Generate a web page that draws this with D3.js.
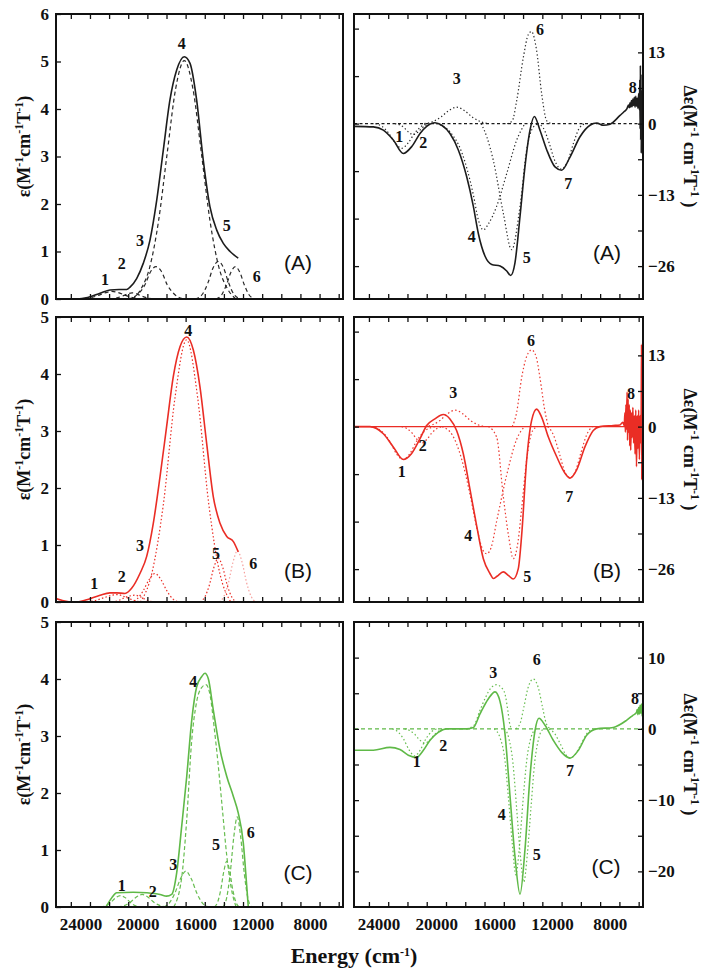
<!DOCTYPE html>
<html><head><meta charset="utf-8">
<script src="https://cdn.jsdelivr.net/npm/d3@7"></script>
<style>body{margin:0;background:#fff}svg{display:block}</style>
</head><body>
<svg id="chart" width="714" height="974"></svg>
<script>
// ---------- shared axis data ----------
const energyDomain = [25700, 5700];
const xMinorTicks = [24667, 23333, 22000, 20667, 19333, 18000, 16667, 15333, 14000, 12667, 11333, 10000, 8667, 7333, 6000];
const xTickLabels = [24000, 20000, 16000, 12000, 8000];
const absTicksA = [0, 1, 2, 3, 4, 5, 6];
const absTicksBC = [0, 1, 2, 3, 4, 5];
const mcdInnerTicksAB = [17.333, 8.667, 0, -8.667, -17.333, -26];
const mcdOuterTicksAB = [13, 6.5, 0, -6.5, -13, -19.5, -26];
const mcdLabelsAB = [13, 0, -13, -26];
const mcdTicksC = [10, 5, 0, -5, -10, -15, -20];
const mcdLabelsC = [10, 0, -10, -20];
const baseline = [[25700, 0], [5700, 0]];

// ---------- (A) absorption ----------
const absA_total = [[25700,0],[24240,0],[23500,0.03],[22630,0.12],[21940,0.19],[21300,0.2],[20770,0.2],[20540,0.25],[20080,0.43],[19620,0.75],[19150,1.24],[18680,2.08],[18220,3.14],[17760,4.19],[17290,4.82],[16760,5.1],[16360,4.96],[15900,4.19],[15440,2.93],[14970,1.94],[14500,1.45],[14040,1.17],[13570,1.0],[13000,0.86]];
const absA_c1 = [[24200,0],[23400,0.02],[22800,0.07],[22300,0.13],[21800,0.16],[21300,0.13],[20800,0.07],[20200,0.02],[19400,0]];
const absA_c2 = [[22000,0],[21500,0.02],[21000,0.07],[20700,0.11],[20400,0.13],[20100,0.11],[19800,0.07],[19300,0.02],[18800,0]];
const absA_c3 = [[20700,0],[20000,0.1],[19500,0.3],[19100,0.58],[18730,0.68],[18350,0.58],[17950,0.3],[17450,0.1],[16800,0]];
const absA_c4 = [[20360,0],[19760,0.22],[19160,0.68],[18560,1.63],[17960,3.05],[17360,4.43],[16760,5.02],[16160,4.43],[15560,3.05],[14960,1.63],[14360,0.68],[13760,0.22],[13160,0]];
const absA_c5 = [[16000,0],[15500,0.1],[15100,0.35],[14750,0.66],[14390,0.79],[14030,0.66],[13680,0.35],[13300,0.1],[12800,0]];
const absA_c6 = [[14550,0],[14150,0.09],[13820,0.3],[13500,0.57],[13200,0.68],[12900,0.57],[12580,0.3],[12250,0.09],[11850,0]];
const labA_abs = [["1",22285,0.41],["2",21121,0.75],["3",19846,1.23],["4",16940,5.38],["5",13804,1.54],["6",11713,0.48]];

// ---------- (A) MCD ----------
const mcdA_total = [[25700,-0.5],[24360,-0.6],[23670,-1.2],[22980,-3.0],[22290,-5.45],[21710,-4.2],[21130,-1.8],[20670,-0.5],[20100,0.15],[19630,-0.3],[19060,-1.8],[18480,-4.8],[17900,-9.7],[17440,-15.1],[17100,-20.0],[16630,-24.2],[16170,-25.7],[15590,-26.0],[15130,-26.9],[14860,-27.7],[14560,-25.4],[14210,-16.9],[13870,-7.9],[13520,-1.2],[13220,1.3],[12830,-1.2],[12360,-4.8],[11790,-7.9],[11330,-8.5],[10750,-6.1],[10060,-2.4],[9370,-0.3],[8900,0.1],[8440,-0.3],[7980,-0.1],[7290,1.5],[7000,2.2],[6800,2.8],[6700,3.4],[6650,2.9],[6600,3.8],[6550,3.0],[6500,4.2],[6450,3.1],[6400,4.5],[6350,3.3],[6300,4.8],[6250,3.0],[6200,5.0],[6150,3.2],[6100,4.6],[6050,2.8],[6000,5.5],[5950,2.5],[5920,8],[5900,-1],[5880,10.6],[5860,-3],[5840,9],[5820,-5.4],[5800,6],[5790,-2]];
const mcdA_c1 = [[24220,0],[23765,-0.5],[23310,-1.7],[22855,-3.5],[22400,-4.5],[21945,-3.5],[21490,-1.7],[21035,-0.5],[20580,0]];
const mcdA_c2 = [[22860,0],[22545,-0.22],[22230,-0.75],[21915,-1.56],[21600,-2.0],[21285,-1.56],[20970,-0.75],[20655,-0.22],[20340,0]];
const mcdA_c3 = [[20840,0],[20280,0.33],[19720,1.13],[19160,2.34],[18600,3.0],[18040,2.34],[17480,1.13],[16920,0.33],[16360,0]];
const mcdA_c4 = [[20000,0],[19060,-1.5],[18250,-5.2],[17440,-13],[17100,-17.5],[16750,-19.4],[16400,-18.3],[15830,-15.1],[15130,-9.1],[14440,-3.0],[13870,0]];
const mcdA_c5 = [[16900,0],[16500,-2.5],[16060,-6.7],[15370,-16.3],[14790,-23.0],[14210,-15.1],[13750,-4.8],[13280,-0.6],[12900,0]];
const mcdA_c6 = [[15100,0],[14750,0.5],[14440,4.2],[13980,12.1],[13630,16.3],[13420,16.8],[13060,13.3],[12710,5.4],[12360,0.5],[12000,0]];
const mcdA_c7 = [[13000,0],[12600,-0.8],[12200,-3.5],[11800,-6.8],[11350,-8.3],[10900,-6.8],[10500,-3.5],[10100,-0.8],[9700,0]];
const labA_mcd = [["1",22565,-2.3],["2",20904,-3.4],["3",18593,8.2],["4",17555,-20.6],["5",13749,-24.5],["6",12829,17.1],["7",10871,-10.9],["8",6414,6.5]];

// ---------- (B) absorption ----------
const absB_total = [[25700,0.06],[25300,0.03],[24800,0.005],[24230,0],[23560,0.04],[22630,0.12],[21940,0.16],[21470,0.16],[20890,0.15],[20430,0.24],[19850,0.5],[19380,0.8],[18920,1.38],[18450,2.2],[17990,3.08],[17530,3.95],[17060,4.48],[16590,4.65],[16130,4.42],[15670,3.78],[15200,2.78],[14740,1.85],[14270,1.38],[13800,1.15],[13340,1.06],[13000,0.88]];
const absB_c1 = [[23500,0],[22900,0.03],[22300,0.08],[21800,0.12],[21400,0.13],[21000,0.1],[20500,0.05],[20000,0.01],[19500,0]];
const absB_c2 = [[21800,0],[21300,0.03],[20900,0.08],[20500,0.11],[20200,0.12],[19900,0.1],[19500,0.05],[19100,0.01],[18700,0]];
const absB_c3 = [[20500,0],[20060,0.05],[19640,0.19],[19220,0.39],[18800,0.5],[18380,0.39],[17960,0.19],[17540,0.05],[17100,0]];
const absB_c4 = [[19820,0],[19015,0.51],[18210,1.73],[17405,3.59],[16600,4.6],[15830,3.59],[15060,1.73],[14290,0.51],[13520,0]];
const absB_c5 = [[15650,0],[15335,0.085],[15020,0.29],[14705,0.6],[14390,0.77],[14075,0.6],[13760,0.29],[13445,0.085],[13130,0]];
const absB_c6 = [[14310,0],[13995,0.1],[13680,0.34],[13365,0.7],[13050,0.9],[12735,0.7],[12420,0.34],[12105,0.1],[11790,0]];
const labB_abs = [["1",23031,0.33],["2",21121,0.44],["3",19846,1.0],["4",16480,4.77],["5",14550,0.85],["6",11950,0.67]];

// ---------- (B) MCD ----------
const mcdB_total = [[25700,0],[24600,0],[23670,-1.3],[22980,-3.7],[22290,-6.0],[21710,-4.9],[21130,-2.2],[20670,0.2],[20100,1.4],[19520,2.2],[19060,1.4],[18600,-0.7],[18140,-4.9],[17670,-11.5],[17210,-18.1],[16750,-24.1],[16290,-26.8],[16060,-27.7],[15800,-27.3],[15370,-26.5],[15000,-27.2],[14680,-27.8],[14330,-25.9],[14100,-19.9],[13750,-6.1],[13410,1.1],[13060,3.2],[12710,1.7],[12250,-1.9],[11670,-5.5],[11100,-8.5],[10750,-9.4],[10290,-7.9],[9720,-3.7],[9140,-0.7],[8680,0],[7760,0.2],[7300,0.3],[7100,0.8],[7000,0.2],[6950,2.5],[6920,-1],[6880,4],[6850,-0.5],[6800,6.3],[6770,-2.5],[6730,5],[6700,-1],[6650,4],[6620,-3.5],[6580,3],[6550,-4.3],[6500,2.5],[6450,-2],[6400,3.5],[6350,-3],[6300,2],[6250,-5],[6200,3],[6150,-7.3],[6100,2],[6050,-4],[6000,3],[5950,-6],[5900,2],[5850,-3],[5820,4],[5800,15],[5785,-9.7],[5770,6],[5755,-3]];
const mcdB_c1 = [[24500,0],[23800,-0.8],[23200,-2.8],[22750,-5.0],[22300,-6.0],[21850,-5.0],[21400,-2.8],[20800,-0.8],[20100,0]];
const mcdB_c2 = [[22400,0],[22050,-0.33],[21700,-1.1],[21350,-2.3],[21000,-3.0],[20650,-2.3],[20300,-1.1],[19950,-0.33],[19600,0]];
const mcdB_c3 = [[20800,0],[20275,0.33],[19750,1.13],[19225,2.34],[18700,3.0],[18175,2.34],[17650,1.13],[17125,0.33],[16600,0]];
const mcdB_c4 = [[19600,0],[18900,-1.5],[18300,-5.5],[17700,-12],[17200,-18.5],[16800,-22.4],[16520,-23.2],[16200,-22],[15830,-17.3],[15140,-8.9],[14440,-2.3],[13900,0]];
const mcdB_c5 = [[16400,0],[15830,-1.9],[15370,-12.7],[15000,-20],[14675,-24.1],[14350,-21],[14100,-15],[13750,-6],[13350,-0.8],[13000,0]];
const mcdB_c6 = [[14750,0],[14450,2.5],[14100,8.9],[13750,12.8],[13406,14.0],[13100,12.8],[12830,8.9],[12500,3],[12250,0]];
const mcdB_c7 = [[12300,0],[11900,-1.5],[11500,-4.8],[11100,-8.3],[10750,-9.3],[10400,-8.3],[10000,-4.8],[9600,-1.5],[9200,0]];
const labB_mcd = [["1",22399,-8.2],["2",20946,-3.4],["3",18828,6.2],["4",17790,-19.9],["5",13708,-27.4],["6",13452,15.7],["7",10802,-12.7],["8",6532,6.0]];

// ---------- (C) absorption ----------
const absC_total = [[22220,0],[21820,0.16],[21470,0.25],[20310,0.26],[19380,0.25],[18450,0.22],[17990,0.19],[17640,0.22],[17290,0.6],[16940,1.42],[16590,2.29],[16240,3.28],[15900,3.86],[15550,4.04],[15320,4.1],[15090,4.01],[14740,3.46],[14270,2.76],[13800,2.29],[13340,1.94],[13000,1.65],[12650,1.13],[12410,0.37],[12300,0]];
const absC_c1 = [[22600,0],[22250,0.02],[21900,0.075],[21550,0.16],[21200,0.2],[20850,0.16],[20500,0.075],[20150,0.02],[19800,0]];
const absC_c2 = [[21400,0],[20960,0.024],[20540,0.08],[20120,0.17],[19700,0.22],[19280,0.17],[18860,0.08],[18440,0.024],[18000,0]];
const absC_c3 = [[18190,0],[17805,0.07],[17420,0.24],[17035,0.49],[16650,0.63],[16265,0.49],[15880,0.24],[15495,0.07],[15110,0]];
const absC_c4 = [[17500,0],[16950,0.5],[16600,1.5],[16250,2.9],[15900,3.6],[15550,3.85],[15250,3.9],[14950,3.7],[14700,3.2],[14400,2.5],[14100,1.7],[13800,0.9],[13500,0.35],[13150,0]];
const absC_c5 = [[14650,0],[14430,0.09],[14220,0.3],[14010,0.62],[13800,0.8],[13590,0.62],[13380,0.3],[13170,0.09],[12950,0]];
const absC_c6 = [[14050,0],[13800,0.17],[13560,0.59],[13310,1.23],[13070,1.58],[12830,1.23],[12580,0.59],[12340,0.17],[12090,0]];
const labC_abs = [["1",21121,0.37],["2",18961,0.28],["3",17526,0.75],["4",16132,3.96],["5",14550,1.1],["6",12132,1.31]];

// ---------- (C) MCD ----------
const mcdC_total = [[25700,-3.0],[24360,-3.0],[23210,-2.6],[22520,-2.9],[21940,-3.7],[21370,-4.0],[20900,-3.0],[20440,-1.6],[19870,-0.5],[19290,0],[17900,0],[17440,0.2],[16980,2.1],[16410,4.2],[15940,5.2],[15600,3.9],[15250,-0.7],[14900,-9.5],[14560,-17.9],[14210,-23.2],[13870,-17.0],[13520,-6.7],[13170,-0.2],[12900,1.5],[12480,0.5],[11910,-1.6],[11330,-3.3],[10750,-4.1],[10170,-3.0],[9600,-0.9],[8900,0],[7760,0.2],[6840,1.2],[6400,1.9],[6150,2.3],[6100,2.7],[6050,2.0],[6000,3.0],[5950,2.1],[5900,3.3],[5850,2.2],[5800,3.5],[5760,1.8],[5730,3.2]];
const mcdC_c1 = [[23040,0],[22655,-0.42],[22270,-1.43],[21885,-2.96],[21500,-3.8],[21115,-2.96],[20730,-1.43],[20345,-0.42],[19960,0]];
const mcdC_c2 = [[22200,0],[21850,-0.22],[21500,-0.75],[21150,-1.56],[20800,-2.0],[20450,-1.56],[20100,-0.75],[19750,-0.22],[19400,0]];
const mcdC_c3 = [[17900,0],[17400,0.5],[17000,2.5],[16600,4.4],[16200,5.8],[15830,6.2],[15500,5.8],[15250,4.9],[15050,2.5],[14900,0.5],[14750,0]];
const mcdC_c4 = [[16000,0],[15600,-1.2],[15250,-4.5],[15000,-10],[14750,-16],[14500,-20.5],[14250,-16.5],[14000,-10],[13750,-4.5],[13450,-1.2],[13100,0]];
const mcdC_c5 = [[15300,0],[15000,-1.2],[14700,-4.8],[14450,-11],[14200,-17.5],[13950,-21.5],[13700,-17.5],[13450,-11],[13200,-4.8],[12900,-1.2],[12600,0]];
const mcdC_c6 = [[14500,0],[14200,0.8],[13950,3],[13650,5.8],[13290,7.0],[12950,5.8],[12650,3],[12400,0.8],[12100,0]];
const mcdC_c7 = [[12200,0],[11800,-0.7],[11400,-2.2],[11050,-3.6],[10750,-4.1],[10400,-3.6],[10000,-2.2],[9600,-0.7],[9200,0]];
const labC_mcd = [["1",21361,-4.6],["2",19520,-2.3],["3",16060,7.9],["4",15479,-12.0],["5",13057,-17.7],["6",13057,9.8],["7",10753,-5.8],["8",6255,4.2]];

// ---------- styling / layout ----------
const SERIF = '"Liberation Serif","Times New Roman",Times,serif';
const SANS = '"Liberation Sans",Arial,Helvetica,sans-serif';
const BLACK = '#1c1c1c', RED = '#ea2d25', GREEN = '#5fb947';
const cols = [{x0:56, x1:343}, {x0:354, x1:643}];
const rows = [{y0:14, y1:299}, {y0:317, y1:602}, {y0:622, y1:907}];

const panels = [
  {col:0,row:0,kind:'abs',yDomain:[0,6],yTicks:absTicksA,color:BLACK,total:absA_total,comps:[absA_c1,absA_c2,absA_c3,absA_c4,absA_c5,absA_c6],dash:'4,3',labels:labA_abs,tag:'(A)',tagDx:-45,tagDy:-37},
  {col:1,row:0,kind:'mcd',yDomain:[-32,20],inner:mcdInnerTicksAB,outer:mcdOuterTicksAB,ylabels:mcdLabelsAB,color:BLACK,total:mcdA_total,comps:[mcdA_c1,mcdA_c2,mcdA_c3,mcdA_c4,mcdA_c5,mcdA_c6,mcdA_c7],dash:'1.3,2.4',zeroDash:'3,2.5',labels:labA_mcd,tag:'(A)',tagDx:-36,tagDy:-47},
  {col:0,row:1,kind:'abs',yDomain:[0,5],yTicks:absTicksBC,color:RED,total:absB_total,comps:[absB_c1,absB_c2,absB_c3,absB_c4,absB_c5,absB_c6],dash:'1.5,2.2',fade:[1,1,1,1,1,0.45],labels:labB_abs,tag:'(B)',tagDx:-45,tagDy:-32},
  {col:1,row:1,kind:'mcd',yDomain:[-32,20],inner:mcdInnerTicksAB,outer:mcdOuterTicksAB,ylabels:mcdLabelsAB,color:RED,total:mcdB_total,comps:[mcdB_c1,mcdB_c2,mcdB_c3,mcdB_c4,mcdB_c5,mcdB_c6,mcdB_c7],dash:'1.5,2.4',zeroDash:null,labels:labB_mcd,tag:'(B)',tagDx:-36,tagDy:-32},
  {col:0,row:2,kind:'abs',yDomain:[0,5],yTicks:absTicksBC,color:GREEN,total:absC_total,comps:[absC_c1,absC_c2,absC_c3,absC_c4,absC_c5,absC_c6],dash:'4,2.5',labels:labC_abs,tag:'(C)',tagDx:-45,tagDy:-35,xlabels:true},
  {col:1,row:2,kind:'mcd',yDomain:[-25,15],inner:mcdTicksC,outer:mcdTicksC,ylabels:mcdLabelsC,color:GREEN,total:mcdC_total,comps:[mcdC_c1,mcdC_c2,mcdC_c3,mcdC_c4,mcdC_c5,mcdC_c6,mcdC_c7],dash:'1.5,2.4',zeroDash:'4,3',labels:labC_mcd,tag:'(C)',tagDx:-37,tagDy:-41,xlabels:true}
];

const svg = d3.select('#chart');
const defs = svg.append('defs');

panels.forEach((p, i) => {
  const c = cols[p.col], r = rows[p.row];
  const x = d3.scaleLinear().domain(energyDomain).range([c.x0, c.x1]);
  const y = d3.scaleLinear().domain(p.yDomain).range([r.y1, r.y0]);
  const line = d3.line().x(d => x(d[0])).y(d => y(d[1])).curve(d3.curveMonotoneX);
  const clipId = 'clip' + i;
  defs.append('clipPath').attr('id', clipId).append('rect')
    .attr('x', c.x0).attr('y', r.y0).attr('width', c.x1 - c.x0).attr('height', r.y1 - r.y0);
  const g = svg.append('g');
  const plot = g.append('g').attr('clip-path', `url(#${clipId})`);

  if (p.kind === 'mcd') {
    plot.append('path').attr('d', line(baseline)).attr('fill', 'none')
      .attr('stroke', p.color).attr('stroke-width', 1.1)
      .attr('stroke-dasharray', p.zeroDash || null);
  }
  p.comps.forEach((comp, k) => {
    plot.append('path').attr('d', line(comp)).attr('fill', 'none')
      .attr('stroke', p.color).attr('stroke-width', 1.2)
      .attr('stroke-opacity', p.fade ? p.fade[k] : 0.95)
      .attr('stroke-dasharray', p.dash);
  });
  plot.append('path').attr('d', line(p.total)).attr('fill', 'none')
    .attr('stroke', p.color).attr('stroke-width', 1.6).attr('stroke-linejoin', 'round');

  // frame
  g.append('rect').attr('x', c.x0).attr('y', r.y0).attr('width', c.x1 - c.x0).attr('height', r.y1 - r.y0)
    .attr('fill', 'none').attr('stroke', '#111').attr('stroke-width', 2);

  // x ticks top and bottom (inward)
  const tickStyle = sel => { sel.select('.domain').remove(); sel.selectAll('line').attr('stroke', '#111').attr('stroke-width', 1.3); };
  g.append('g').attr('transform', `translate(0,${r.y1})`)
    .call(d3.axisBottom(x).tickValues(xMinorTicks).tickSize(-5).tickFormat('')).call(tickStyle);
  g.append('g').attr('transform', `translate(0,${r.y0})`)
    .call(d3.axisTop(x).tickValues(xMinorTicks).tickSize(-5).tickFormat('')).call(tickStyle);

  const labelStyle = sel => { sel.select('.domain').remove(); sel.selectAll('text').attr('font-family', SERIF).attr('font-weight', 'bold').attr('font-size', 17).attr('fill', '#111'); };

  if (p.xlabels) {
    g.append('g').attr('transform', `translate(0,${r.y1})`)
      .call(d3.axisBottom(x).tickValues(xTickLabels).tickSize(0).tickPadding(11).tickFormat(d3.format('d')))
      .call(labelStyle);
  }

  if (p.kind === 'abs') {
    g.append('g').attr('transform', `translate(${c.x0},0)`)
      .call(d3.axisLeft(y).tickValues(p.yTicks).tickSize(-5).tickFormat('')).call(tickStyle);
    g.append('g').attr('transform', `translate(${c.x0},0)`)
      .call(d3.axisLeft(y).tickValues(p.yTicks).tickSize(0).tickPadding(7).tickFormat(d3.format('d')))
      .call(labelStyle);
  } else {
    g.append('g').attr('transform', `translate(${c.x0},0)`)
      .call(d3.axisLeft(y).tickValues(p.inner).tickSize(-5).tickFormat('')).call(tickStyle);
    g.append('g').attr('transform', `translate(${c.x1},0)`)
      .call(d3.axisRight(y).tickValues(p.outer).tickSize(-5).tickFormat('')).call(tickStyle);
    g.append('g').attr('transform', `translate(${c.x1},0)`)
      .call(d3.axisRight(y).tickValues(p.ylabels).tickSize(0).tickPadding(5).tickFormat(d3.format('d')))
      .call(labelStyle);
  }

  // peak numbers
  g.selectAll('text.peak').data(p.labels).join('text').attr('class', 'peak')
    .attr('x', d => x(d[1])).attr('y', d => y(d[2]))
    .attr('text-anchor', 'middle').attr('dominant-baseline', 'central')
    .attr('font-family', SERIF).attr('font-weight', 'bold').attr('font-size', 16).attr('fill', '#111')
    .text(d => d[0]);

  // panel tag
  g.append('text').attr('x', c.x1 + p.tagDx).attr('y', r.y1 + p.tagDy)
    .attr('text-anchor', 'middle').attr('dominant-baseline', 'central')
    .attr('font-family', SANS).attr('font-size', 21).attr('fill', '#111').text(p.tag);

  // y-axis titles
  const cy = (r.y0 + r.y1) / 2 - 10;
  if (p.kind === 'abs') {
    const t = svg.append('text').attr('transform', `translate(30,${cy}) rotate(-90)`)
      .attr('text-anchor', 'middle').attr('font-family', SERIF).attr('font-weight', 'bold').attr('font-size', 18).attr('fill', '#111');
    addSup(t, [['ε(M', false], ['-1', true], ['cm', false], ['-1', true], ['T', false], ['-1', true], [')', false]]);
  } else {
    const t = svg.append('text').attr('transform', `translate(684,${cy}) rotate(90)`)
      .attr('text-anchor', 'middle').attr('font-family', SERIF).attr('font-weight', 'bold').attr('font-size', 18).attr('fill', '#111');
    addSup(t, [['Δε(M', false], ['-1', true], [' cm', false], ['-1', true], ['T', false], ['-1', true], [' )', false]]);
  }
});

function addSup(t, parts) {
  let up = false;
  parts.forEach(([s, sup]) => {
    const ts = t.append('tspan').text(s);
    if (sup && !up) { ts.attr('dy', -7).attr('font-size', 12); up = true; }
    else if (sup) { ts.attr('font-size', 12); }
    else if (!sup && up) { ts.attr('dy', 7); up = false; }
  });
}

// x-axis title
const xt = svg.append('text').attr('x', 354).attr('y', 963).attr('text-anchor', 'middle')
  .attr('font-family', SERIF).attr('font-weight', 'bold').attr('font-size', 22).attr('fill', '#111');
addSup(xt, [['Energy (cm', false], ['-1', true], [')', false]]);
</script>
</body></html>
